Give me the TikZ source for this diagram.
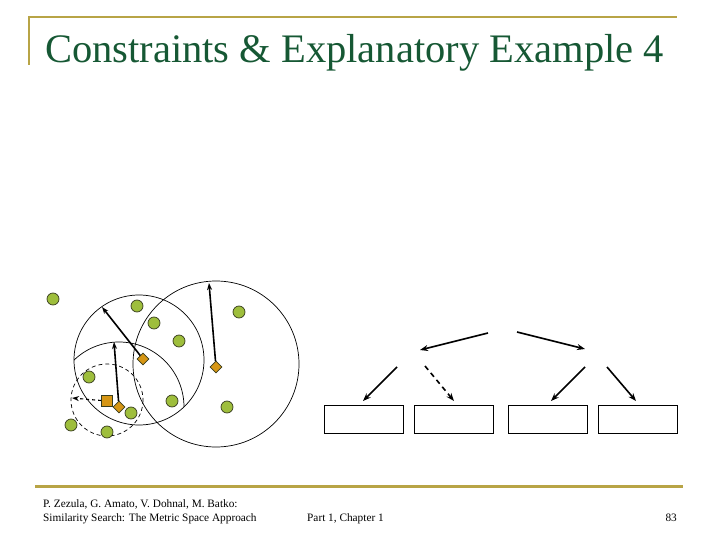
\documentclass[tikz,border=0pt]{standalone}
\usepackage{fontspec}
\setmainfont{Liberation Serif}
\usetikzlibrary{arrows.meta,shapes.geometric}
\definecolor{titlegreen}{RGB}{22,88,52}
\definecolor{goldline}{RGB}{184,164,70}
\definecolor{dotgreen}{RGB}{158,190,60}
\definecolor{dotedge}{RGB}{55,60,30}
\definecolor{orangefill}{RGB}{214,150,20}
\tikzset{
  dot/.style={circle,draw=dotedge,fill=dotgreen,line width=0.7pt,minimum size=12pt,inner sep=0pt},
  pivot/.style={diamond,draw=dotedge,fill=orangefill,line width=0.7pt,minimum size=12pt,inner sep=0pt},
  query/.style={rectangle,draw=dotedge,fill=orangefill,line width=0.7pt,minimum size=11pt,inner sep=0pt},
  ball/.style={line width=0.7pt},
  radius arrow/.style={-{Stealth[length=7pt,width=5pt]},line width=1.6pt},
  treearrow/.style={-{Stealth[length=8pt,width=6pt]},line width=1.6pt},
  leafbox/.style={rectangle,draw,line width=0.8pt,minimum width=79pt,minimum height=27.5pt,inner sep=0pt},
  foot/.style={font=\fontsize{11.3}{13}\selectfont,inner sep=0pt}
}
\begin{document}
\begin{tikzpicture}[x=1pt,y=-1pt]
\useasboundingbox (0,0) rectangle (720,540);
% frame lines
\draw[goldline,line width=2pt] (29,17) coordinate (tl) -- (677,17) coordinate (tr);
\draw[goldline,line width=2pt] (29,16) -- (29,65) coordinate (tlb);
\draw[goldline,line width=3pt] (35,486) coordinate (bl) -- (683,486) coordinate (br);
% title
\node[anchor=base west,inner sep=0pt,text=titlegreen,font=\fontsize{40.5}{46}\selectfont] (title) at (45,63) {Constraints \& Explanatory Example 4};
% footer
\node[foot,anchor=base west] (f1) at (43,507) {P. Zezula, G. Amato, V. Dohnal, M. Batko:};
\node[foot,anchor=base west] (f2) at (43,521) {Similarity Search: The Metric Space Approach};
\node[foot,anchor=base west] (f3) at (307,521) {Part 1, Chapter 1};
\node[foot,anchor=base east] (f4) at (677,521) {83};

% balls
\draw[ball] (216,364) circle[radius=83];
\draw[ball] (139,360) circle[radius=65];
\begin{scope}
  \clip (139,360) circle[radius=65];
  \draw[ball] (119,407) circle[radius=65];
\end{scope}
\draw[ball,dash pattern=on 4pt off 3pt] (107,400) circle[radius=36];

% objects
\node[dot] (o1) at (53,299) {};
\node[dot] (o2) at (137,306) {};
\node[dot] (o3) at (154,323) {};
\node[dot] (o4) at (179,341) {};
\node[dot] (o5) at (239,312) {};
\node[dot] (o6) at (89,377) {};
\node[dot] (o7) at (172,401) {};
\node[dot] (o8) at (131,413) {};
\node[dot] (o9) at (71,425) {};
\node[dot] (o10) at (107,432) {};
\node[dot] (o11) at (227,407) {};

% pivots and query
\node[pivot] (p1) at (216,367) {};
\node[pivot] (p2) at (143,359) {};
\node[pivot] (p3) at (119,407) {};
\node[query] (q) at (107,401) {};

% radius arrows
\coordinate (r1) at (209,283);
\coordinate (r2) at (102,307);
\coordinate (r3) at (114,342);
\coordinate (rq) at (72,398);
\draw[radius arrow] (p1) -- (r1);
\draw[radius arrow] (p2) -- (r2);
\draw[radius arrow] (p3) -- (r3);
\draw[radius arrow,dashed,line width=1.1pt] (q) -- (rq);

% tree
\coordinate (a1s) at (488,333); \coordinate (a1e) at (420,350);
\coordinate (a2s) at (517,332); \coordinate (a2e) at (585,349);
\coordinate (a3s) at (397,367);
\coordinate (a4s) at (425,366);
\coordinate (a5s) at (585,367);
\coordinate (a6s) at (607,367);
\node[leafbox] (b1) at (363.5,419.5) {};
\node[leafbox] (b2) at (454,419.5) {};
\node[leafbox] (b3) at (547.5,419.5) {};
\node[leafbox] (b4) at (638,419.5) {};
\coordinate (a3e) at (363,401);
\coordinate (a4e) at (454,401);
\coordinate (a5e) at (551,401);
\coordinate (a6e) at (636,401);
\draw[treearrow] (a1s) -- (a1e);
\draw[treearrow] (a2s) -- (a2e);
\draw[treearrow] (a3s) -- (a3e);
\draw[treearrow,dash pattern=on 5pt off 4pt] (a4s) -- (a4e);
\draw[treearrow] (a5s) -- (a5e);
\draw[treearrow] (a6s) -- (a6e);
\end{tikzpicture}
\end{document}
